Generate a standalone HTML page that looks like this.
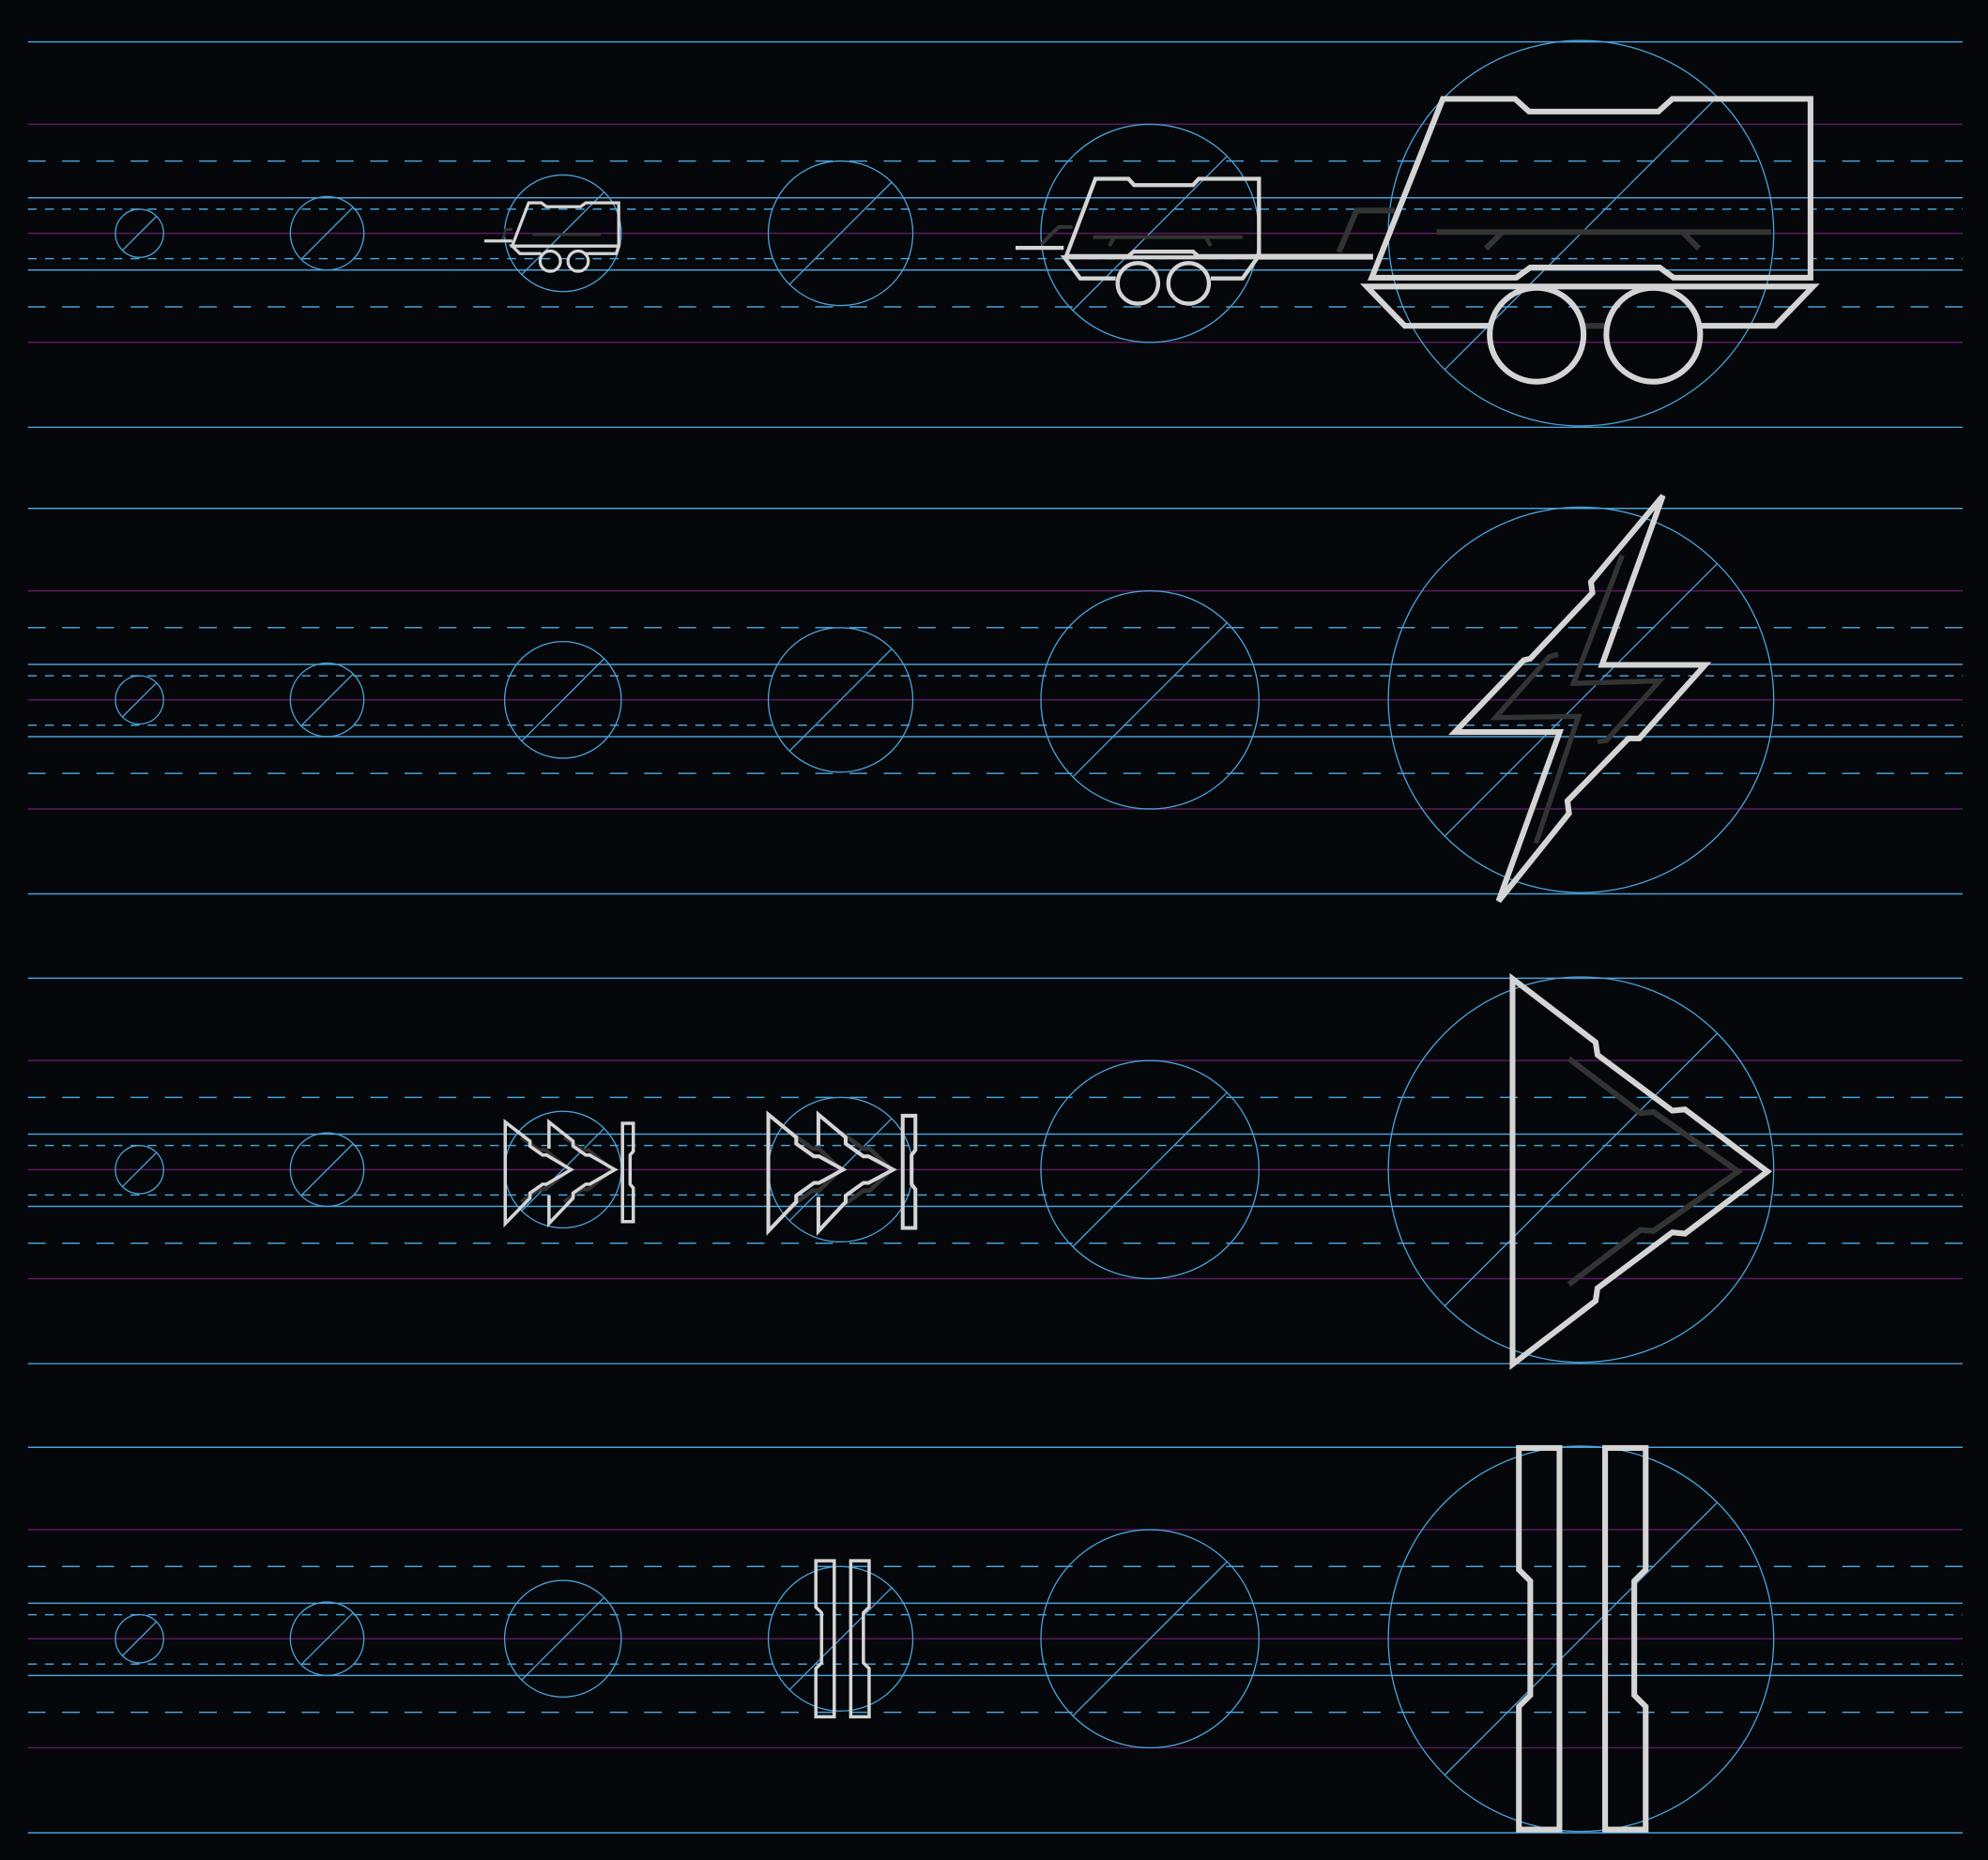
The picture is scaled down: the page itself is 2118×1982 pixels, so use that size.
<!DOCTYPE html>
<html><head><meta charset="utf-8"><style>
html,body{margin:0;padding:0;background:#05070a;}
svg{display:block;}
</style></head><body>
<svg xmlns="http://www.w3.org/2000/svg" width="2118" height="1982" viewBox="0 0 1568 1467" preserveAspectRatio="none">
<rect width="1568" height="1467" fill="#05070a"/>
<defs>
<g id="row" fill="none">
  <g stroke="#4a9fd6" stroke-width="1.1">
    <line x1="22" x2="1548" y1="-151" y2="-151"/>
    <line x1="22" x2="1548" y1="153" y2="153"/>
    <line x1="22" x2="1548" y1="-28" y2="-28"/>
    <line x1="22" x2="1548" y1="29" y2="29"/>
    <line x1="22" x2="1548" y1="-57" y2="-57" stroke-dasharray="14 13"/>
    <line x1="22" x2="1548" y1="58" y2="58" stroke-dasharray="14 13"/>
    <line x1="22" x2="1548" y1="-19" y2="-19" stroke-dasharray="7 6.5"/>
    <line x1="22" x2="1548" y1="20" y2="20" stroke-dasharray="7 6.5"/>
  </g>
  <g stroke="#5a1a5e" stroke-width="1.1">
    <line x1="22" x2="1548" y1="-86" y2="-86"/>
    <line x1="22" x2="1548" y1="0" y2="0"/>
    <line x1="22" x2="1548" y1="86" y2="86"/>
  </g>
  <g stroke="#4a9fd6" stroke-width="1">
    <circle cx="110" cy="0" r="19"/>
    <line x1="96.6" y1="13.4" x2="123.4" y2="-13.4"/>
    <circle cx="258" cy="0" r="29"/>
    <line x1="237.5" y1="20.5" x2="278.5" y2="-20.5"/>
    <circle cx="444" cy="0" r="46"/>
    <line x1="411.5" y1="32.5" x2="476.5" y2="-32.5"/>
    <circle cx="663" cy="0" r="57"/>
    <line x1="622.7" y1="40.3" x2="703.3" y2="-40.3"/>
    <circle cx="907" cy="0" r="86"/>
    <line x1="846.2" y1="60.8" x2="967.8" y2="-60.8"/>
    <circle cx="1247" cy="0" r="152"/>
    <line x1="1139.5" y1="107.5" x2="1354.5" y2="-107.5"/>
  </g>
</g>
</defs>
<use href="#row" transform="translate(0,184)"/>
<use href="#row" transform="translate(0,552)"/>
<use href="#row" transform="translate(0,922.5)"/>
<use href="#row" transform="translate(0,1292.5)"/>

<g fill="none" stroke-linejoin="miter">
  <g stroke="#333" stroke-width="2.2">
    <line x1="420" y1="185" x2="474" y2="185"/>
    <polyline points="396,190 399,181 404,181"/>
  </g>
  <g stroke="#d4d4d4" stroke-width="2.4">
    <path d="M417,160 L427,160 L431,163 L458,163 L462,160 L488,160 L488,194 L404,194 Z"/>
    <polyline points="427,200 410,200 404,194 488,194 486,200 462,200"/>
    <line x1="382" y1="190" x2="404" y2="190"/>
    <circle cx="434" cy="206" r="8"/>
    <circle cx="456" cy="206" r="8"/>
  </g>
  <g stroke="#333" stroke-width="3">
    <polyline points="821,193 835,179 846,179"/>
    <line x1="862" y1="187" x2="980" y2="187"/>
    <line x1="879" y1="187" x2="875" y2="194"/>
    <line x1="951" y1="187" x2="955" y2="194"/>
  </g>
  <g stroke="#d4d4d4" stroke-width="3.2">
    <path d="M864,141 L890,141 L894.5,146 L941,146 L945.5,141 L993,141 L993,202 L945,202 L941,198.5 L894,198.5 L890,202 L841,202 Z"/>
    <polyline points="880,219.6 852,219.6 839.5,203 992,203 980,219.6 955,219.6"/>
    <line x1="801" y1="195.5" x2="839" y2="195.5"/>
    <circle cx="897.5" cy="223.5" r="16"/>
    <circle cx="937.5" cy="223.5" r="16"/>
  </g>
  <line x1="993" y1="202.5" x2="1083" y2="202.5" stroke="#d4d4d4" stroke-width="4.5"/>
  <g stroke="#333" stroke-width="4.5">
    <polyline points="1056,199 1070,166 1100,166"/>
    <line x1="1133" y1="183" x2="1397" y2="183"/>
    <line x1="1185" y1="183" x2="1172" y2="196"/>
    <line x1="1327" y1="183" x2="1340" y2="196"/>
    <line x1="1248" y1="257" x2="1268" y2="257"/>
  </g>
  <g stroke="#d4d4d4" stroke-width="4.5">
    <path d="M1138,78 L1195,78 L1206,88 L1308,88 L1319,78 L1428,78 L1428,219 L1320,219 L1309,211 L1207,211 L1196,219 L1082,219 Z"/>
    <polyline points="1176,257 1108,257 1078,226 1430,226 1400,257 1340,257"/>
    <circle cx="1212" cy="264" r="37"/>
    <circle cx="1304" cy="264" r="37"/>
  </g>
</g>

<g fill="none">
  <polyline stroke="#333" stroke-width="4" points="1279.5,438 1241,539 1309,537 1267,584 1260,585"/>
  <polyline stroke="#333" stroke-width="4" points="1229,516 1222,518 1179.5,566 1245,565 1211.5,665"/>
  <path stroke="#d4d4d4" stroke-width="4.5" d="M1311.6,391 L1263.5,524.4 L1344.9,524.4 L1293,582.4 L1284.4,582.4 L1236.3,631.7 L1237.5,641.6 L1182,710.7 L1230.2,577.4 L1147.5,577.4 L1201.8,520.7 L1207,519.5 L1256,467.6 L1254.8,459 Z"/>
</g>

<g fill="none">
  <g stroke="#333" stroke-width="3">
    <polyline points="411,897 425,907 430,907 449,922.5 430,938 425,938 411,948"/>
    <polyline points="445,897 459,907 464,907 483,922.5 464,938 459,938 445,948"/>
  </g>
  <g stroke="#d4d4d4" stroke-width="2.6">
    <path d="M398.5,885 L418,900 L418,904 L428,911 L431,911 L450.5,922.5 L431,934 L428,934 L418,941 L418,945 L398.5,965 Z"/>
    <path d="M433,906 L433,885 L452,900 L452,904 L462,911 L465,911 L485,922.5 L465,934 L462,934 L452,941 L452,945 L433,965 L433,943"/>
    <path d="M491,886 L499.5,886 L499.5,908 L497,911 L497,934 L499.5,937 L499.5,963.5 L491,963.5 Z"/>
  </g>
  <g stroke="#333" stroke-width="3.4">
    <polyline points="623,893 641,906 646,906 663,922.5 646,939 641,939 623,952"/>
    <polyline points="663,893 681,906 686,906 703,922.5 686,939 681,939 663,952"/>
  </g>
  <g stroke="#d4d4d4" stroke-width="3">
    <path d="M606,879 L628,897 L628,902 L642,912 L646,912 L665,922.5 L646,933 L642,933 L628,943 L628,948 L606,971 Z"/>
    <path d="M645.5,903 L645.5,879 L667,897 L667,902 L681,912 L685,912 L704.5,922.5 L685,933 L681,933 L667,943 L667,948 L645.5,971 L645.5,944"/>
    <path d="M712,880 L722,880 L722,907 L719,911 L719,934 L722,938 L722,968.5 L712,968.5 Z"/>
  </g>
  <g transform="translate(1247,924)">
    <path stroke="#333" stroke-width="4.5" d="M-9.5,-89 L47,-46 L57,-47 L124,0 L57,47 L47,46 L-9.5,89"/>
    <path stroke="#d4d4d4" stroke-width="4.5" d="M-54,-152 L11.5,-102 L13,-92 L72,-48 L82,-49 L147,0 L82,49 L72,48 L13,92 L11.5,102 L-54,152 Z"/>
  </g>
</g>

<g fill="none" stroke="#d4d4d4">
  <g stroke-width="2.6">
    <path d="M643.5,1231 L658,1231 L658,1354 L643.5,1354 L643.5,1316 L648,1311.5 L648,1272 L643.5,1267.5 Z"/>
    <path d="M671,1231 L685.5,1231 L685.5,1267.5 L681,1272 L681,1311.5 L685.5,1316 L685.5,1354 L671,1354 Z"/>
  </g>
  <g stroke-width="4.5">
    <path d="M1198,1142 L1230,1142 L1230,1443 L1198,1443 L1198,1346 L1207,1337 L1207,1247 L1198,1238 Z"/>
    <path d="M1266,1142 L1298,1142 L1298,1238 L1289,1247 L1289,1337 L1298,1346 L1298,1443 L1266,1443 Z"/>
  </g>
</g>
</svg>
</body></html>
